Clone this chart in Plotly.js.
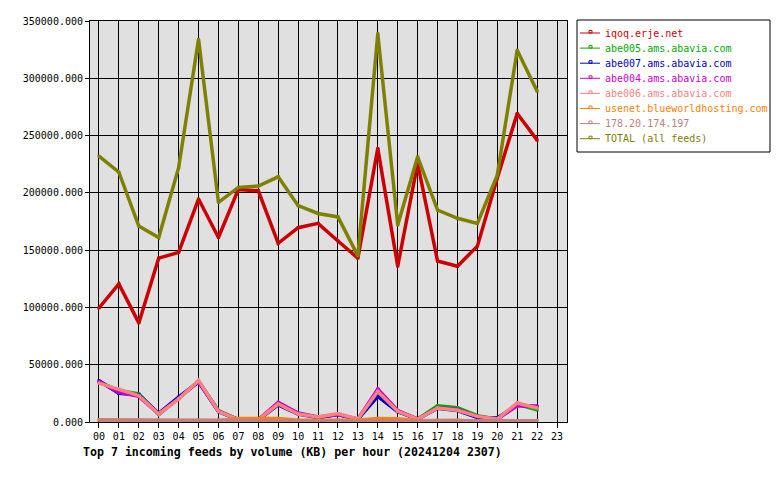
<!DOCTYPE html>
<html><head><meta charset="utf-8">
<script src="https://cdn.plot.ly/plotly-3.0.1.min.js"></script>
<style>body{margin:0;padding:0;background:#fff}#chart{width:780px;height:480px}</style>
</head><body><div id="chart"></div>
<script>
const hours = ["00","01","02","03","04","05","06","07","08","09","10","11","12","13","14","15","16","17","18","19","20","21","22","23"];
const names = ["iqoq.erje.net","abe005.ams.abavia.com","abe007.ams.abavia.com","abe004.ams.abavia.com","abe006.ams.abavia.com","usenet.blueworldhosting.com","178.20.174.197","TOTAL (all feeds)"];
const colors = ["#cc0000","#00aa00","#0000cc","#cc00cc","#ff8080","#ff8000","#c08080","#808000"];
const iqoq    = [99500,120500,86500,143000,148000,194600,161000,203000,201800,156000,169600,173400,158000,143000,238800,136000,225700,140500,136000,153500,213000,269300,246000];
const abe005  = [35000,27500,24500,6500,21000,35500,10000,2000,2000,15500,7500,4000,6500,2500,23000,9500,2500,14200,12500,5500,2500,15500,10700];
const abe007  = [36000,25000,23800,7500,21800,35000,9000,2000,2000,15000,7000,4000,6500,2500,22400,9000,2500,12000,10000,4000,3500,14800,13500];
const abe004  = [35400,25900,22400,7000,20500,35400,9300,2000,2000,17100,7800,4400,6500,2500,28800,10000,2500,12500,11000,4900,2600,14200,13700];
const abe006  = [34000,28800,23000,7000,20000,36300,9300,2000,2000,15700,7000,4400,7300,2600,26700,9300,2600,12200,10200,4900,2600,16600,12200];
const usenet  = [2000,1500,1500,1000,1000,1000,1000,3000,3000,3000,1500,1500,1500,1500,3000,2800,1000,1500,1500,500,500,1000,1000];
const ip178   = [1700,1700,1700,1700,1700,1700,1500,1500,1500,1500,1500,1500,1500,1500,1500,1500,1500,1500,1500,1500,1500,1500,1500];
const total   = [232000,218000,171000,161000,222000,334000,191700,204800,206000,214000,188800,182000,179000,145000,339000,172000,231500,185000,177800,173400,215500,324500,288700];

const series = [iqoq,abe005,abe007,abe004,abe006,usenet,ip178,total];
const mono = "DejaVu Sans Mono, monospace";
const traces = series.map((ys,i)=>({
  x: ys.map((v,k)=>k),
  y: ys,
  type: "scatter",
  mode: "lines+markers",
  name: names[i],
  line: {color: colors[i], width: 3.5},
  marker: {color: colors[i], size: 3, symbol: "square"},
  showlegend: false
}));

// manual legend (pixel layout converted to paper coordinates)
const L = 90, R = 567, T = 21, B = 422;
const px = v => (v - L) / (R - L);
const py = v => (B - v) / (B - T);
const shapes = [{type:"rect", xref:"paper", yref:"paper", x0:px(577), x1:px(770), y0:py(20), y1:py(152),
  line:{color:"#000", width:1}, fillcolor:"#fff", layer:"above"}];
const annotations = [];
names.forEach((n,i)=>{
  const yy = 33 + 15.1*i;
  shapes.push({type:"line", xref:"paper", yref:"paper", x0:px(580), x1:px(600), y0:py(yy), y1:py(yy),
    line:{color:colors[i], width:1}, layer:"above"});
  shapes.push({type:"rect", xref:"paper", yref:"paper", x0:px(589), x1:px(592), y0:py(yy), y1:py(yy-2.5),
    line:{color:colors[i], width:1}, fillcolor:"rgba(0,0,0,0)", layer:"above"});
  annotations.push({xref:"paper", yref:"paper", x:px(603), y:py(yy), xanchor:"left", yanchor:"middle",
    text:n, showarrow:false, font:{family:mono, size:10, color:colors[i]}});
});

const layout = {
  width: 780, height: 480,
  margin: {l:L, r:780-R, t:T, b:480-B, pad:0},
  paper_bgcolor: "#ffffff",
  plot_bgcolor: "#e0e0e0",
  showlegend: false,
  shapes: shapes,
  annotations: annotations,
  title: {
    text: "<b>Top 7 incoming feeds by volume (KB) per hour (20241204 2307)</b>",
    font: {family: mono, size: 11.6, color: "#000"},
    x: 83/780, xanchor: "left", xref: "container",
    y: 1-452/480, yanchor: "middle", yref: "container"
  },
  xaxis: {
    range: [-0.45, 23.5],
    tickmode: "array", tickvals: hours.map((h,k)=>k), ticktext: hours,
    showgrid: true, gridcolor: "#000", gridwidth: 1,
    showline: true, linecolor: "#000", linewidth: 1, mirror: true,
    ticks: "outside", ticklen: 5, tickcolor: "#000",
    tickfont: {family: mono, size: 10, color: "#000"},
    zeroline: false, fixedrange: true
  },
  yaxis: {
    range: [0, 350000], dtick: 50000, tick0: 0,
    tickformat: ".3f",
    showgrid: true, gridcolor: "#000", gridwidth: 1,
    showline: true, linecolor: "#000", linewidth: 1, mirror: true,
    ticks: "outside", ticklen: 4, tickcolor: "#000",
    tickfont: {family: mono, size: 10, color: "#000"},
    zeroline: false, fixedrange: true
  }
};
Plotly.newPlot("chart", traces, layout, {staticPlot: true});
</script></body></html>
